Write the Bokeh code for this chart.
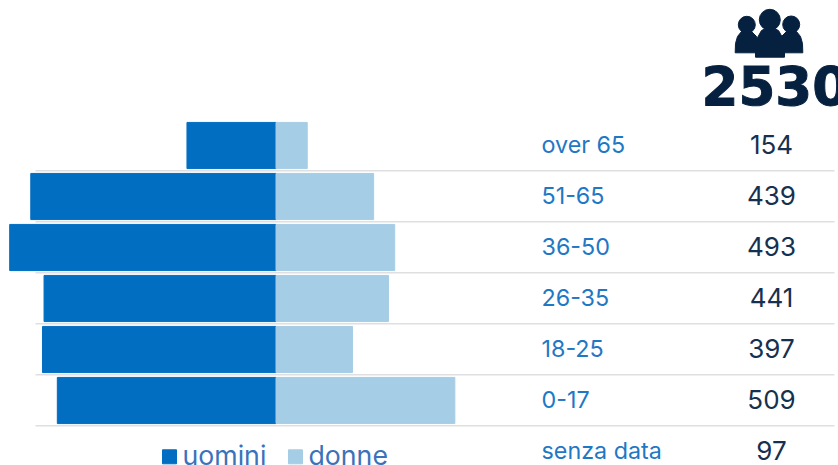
from bokeh.plotting import figure
from bokeh.models import Range1d, ColumnDataSource
from bokeh.core.properties import value
from bokeh.embed import file_html
from bokeh.resources import INLINE

ages = ["over 65", "51-65", "36-50", "26-35", "18-25", "0-17", "senza data"]
totals = [154, 439, 493, 441, 397, 509, 97]
men = [114, 314, 341, 297, 299, 280]
women = [40, 125, 152, 144, 98, 229]
grand_total = "2530"
legend_labels = ["uomini", "donne"]

BLUE = "#026ec1"
LIGHT = "#a6cde6"
NAVY = "#06213f"
LABEL = "#1f78c4"
NUM = "#16304f"
LEG = "#3b72b9"
GRID = "#dfdfe1"

W, H = 838, 465
PPU = 0.781
X0 = 275.5
ROW0 = 145
PITCH = 51

def x_unit(px):
    return (px - X0) / PPU

def y_unit(py):
    return (py - ROW0) / PITCH

p = figure(width=W, height=H, output_backend="svg", toolbar_location=None,
           x_range=Range1d(x_unit(0), x_unit(W)),
           y_range=Range1d(y_unit(H), y_unit(0)),
           min_border=0, outline_line_color=None, background_fill_color="white",
           border_fill_color="white")
p.axis.visible = False
p.grid.visible = False
p.extra_x_ranges["px"] = Range1d(0, W)
p.extra_y_ranges["px"] = Range1d(H, 0)

rows = list(range(len(men)))

# row separators
p.segment(x0=[x_unit(35)] * 6, x1=[x_unit(834)] * 6,
          y0=[r + 0.495 for r in rows], y1=[r + 0.495 for r in rows],
          line_color=GRID, line_width=1.6)

src = ColumnDataSource(dict(y=rows, men=[-m for m in men], women=women, zero=[0] * 6))
p.hbar(y="y", left="men", right="zero", height=0.905, color=BLUE, source=src)
p.hbar(y="y", left="zero", right="women", height=0.905, color=LIGHT, source=src)

all_rows = list(range(len(ages)))
FONT = "Inter"
p.text(x=[x_unit(541)] * 7, y=all_rows, text=ages, text_font=value(FONT),
       text_font_size="23.3px", text_color=LABEL, text_align="left", text_baseline="middle",
       y_offset=-1)
p.text(x=[x_unit(771)] * 7, y=all_rows, text=[str(t) for t in totals], text_font=value(FONT),
       text_font_size="26px", text_color=NUM, text_align="center", text_baseline="middle",
       y_offset=-1)

# legend
p.rect(x=[169, 295], y=[456.3, 456.3], width=14, height=14, color=[BLUE, LIGHT],
       x_range_name="px", y_range_name="px")
p.text(x=[182, 308], y=[454, 454], text=legend_labels, text_font=value(FONT),
       text_font_size="26.7px", text_color=LEG, text_align="left", text_baseline="middle",
       x_range_name="px", y_range_name="px")

# big total
p.text(x=[701], y=[85], text=[grand_total], text_font=value("DejaVu Sans"),
       text_font_style="bold", text_font_size="53px", text_color=NAVY,
       text_outline_color=NAVY,
       text_align="left", text_baseline="middle",
       x_range_name="px", y_range_name="px")

# people icon
side_l_x = [734.7, 735, 737, 741, 746, 751, 756, 758, 758, 734.7]
side_l_y = [52.3, 43, 36, 31, 29, 31, 36, 43, 52.3, 52.3]
side_r_x = [802.3, 802, 800, 796, 791, 786, 781, 779, 779, 802.3]
side_r_y = side_l_y
mid_x = [755, 755, 757, 761, 769.5, 778, 782, 784, 784, 755]
mid_y = [56.7, 45, 37, 30, 26, 30, 37, 45, 56.7, 56.7]
p.patches(xs=[side_l_x, side_r_x, mid_x], ys=[side_l_y, side_r_y, mid_y],
          color=NAVY, x_range_name="px", y_range_name="px")
p.circle(x=[746.3, 790.7, 769.3], y=[24.3, 24, 19.3], radius=[8.5, 8.5, 10.5], color=NAVY,
         x_range_name="px", y_range_name="px")

open("out.html", "w").write(file_html(p, INLINE))
